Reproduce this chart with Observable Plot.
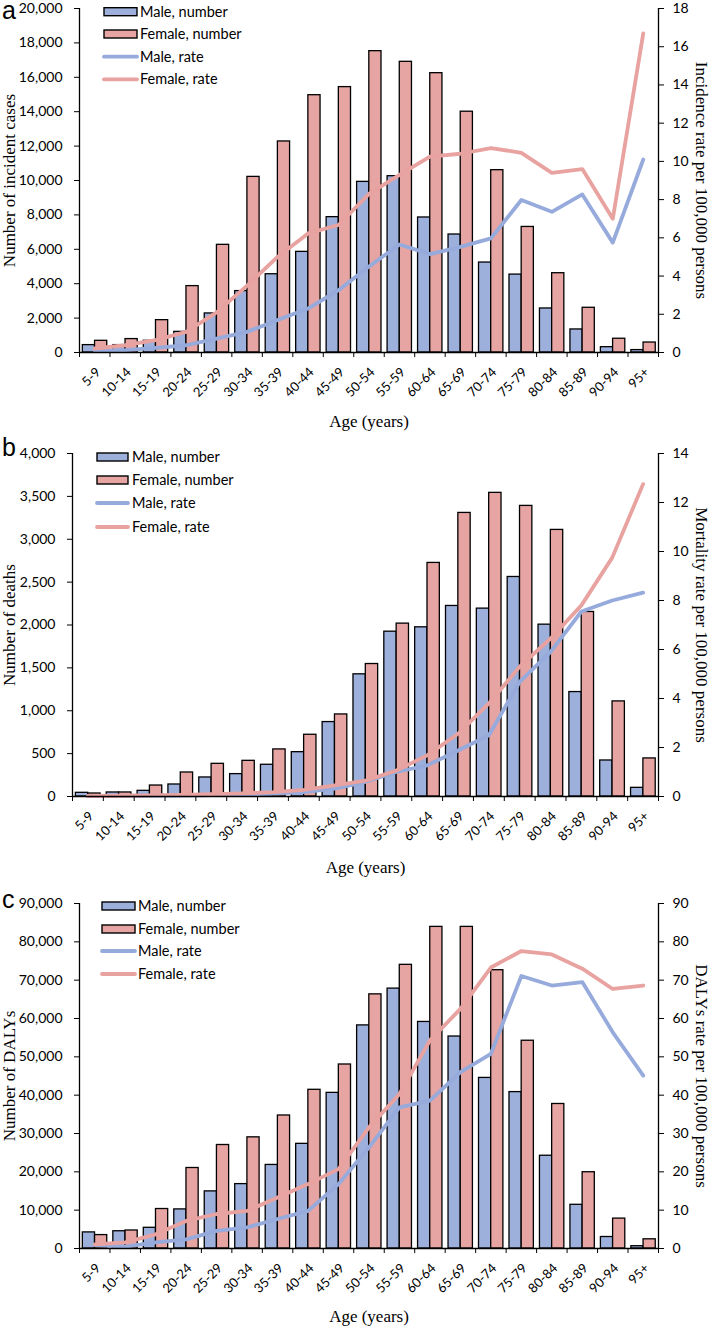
<!DOCTYPE html>
<html>
<head>
<meta charset="utf-8">
<script src="https://cdn.jsdelivr.net/npm/d3@7"></script>
<script src="https://cdn.jsdelivr.net/npm/@observablehq/plot@0.6"></script>
<style>
  body { margin: 0; background: white; }
  #root { position: relative; width: 709px; height: 1327px; background: white; }
  .panel { position: absolute; left: 0; }
</style>
</head>
<body>
<div id="root"></div>
<script>
// ---------- data ----------
const ages = ["5-9","10-14","15-19","20-24","25-29","30-34","35-39","40-44","45-49","50-54","55-59","60-64","65-69","70-74","75-79","80-84","85-89","90-94","95+"];

// (a) incidence
const incMaleNumber   = [430, 430, 680, 1200, 2270, 3570, 4550, 5850, 7870, 9920, 10250, 7850, 6860, 5230, 4530, 2560, 1340, 310, 140];
const incFemaleNumber = [680, 780, 1880, 3860, 6260, 10210, 12270, 14960, 15430, 17520, 16900, 16240, 14000, 10600, 7300, 4610, 2600, 800, 580];
const incMaleRate     = [0.09, 0.12, 0.24, 0.38, 0.73, 1.08, 1.7, 2.3, 3.26, 4.5, 5.65, 5.15, 5.53, 5.97, 7.98, 7.36, 8.27, 5.75, 10.1];
const incFemaleRate   = [0.21, 0.38, 0.65, 1.08, 2.1, 3.5, 5.0, 6.23, 6.67, 8.3, 9.3, 10.25, 10.4, 10.7, 10.45, 9.4, 9.6, 7.0, 16.7];

// (b) deaths
const dthMaleNumber   = [43, 47, 66, 140, 222, 261, 370, 517, 868, 1425, 1922, 1973, 2222, 2191, 2560, 2004, 1218, 420, 101];
const dthFemaleNumber = [35, 47, 128, 280, 381, 416, 549, 720, 957, 1545, 2016, 2724, 3307, 3541, 3389, 3109, 2152, 1109, 444];
const dthMaleRate     = [0.02, 0.02, 0.03, 0.04, 0.06, 0.08, 0.12, 0.18, 0.32, 0.6, 1.0, 1.27, 1.88, 2.5, 4.68, 5.9, 7.55, 8.0, 8.32];
const dthFemaleRate   = [0.02, 0.03, 0.05, 0.07, 0.1, 0.13, 0.18, 0.27, 0.45, 0.65, 1.06, 1.68, 2.56, 3.8, 5.3, 6.45, 7.8, 9.75, 12.75];

// (c) DALYs
const dalyMaleNumber   = [4200, 4500, 5400, 10200, 14900, 16800, 21800, 27300, 40600, 58200, 67800, 59100, 55300, 44500, 40800, 24200, 11400, 3000, 600];
const dalyFemaleNumber = [3500, 4700, 10300, 21000, 27000, 29000, 34700, 41400, 48000, 66300, 74000, 83900, 83900, 72600, 54200, 37700, 19900, 7800, 2400];
const dalyMaleRate     = [0.9, 0.5, 1.6, 2.4, 4.6, 5.5, 7.7, 9.8, 16.8, 26.4, 36.8, 38.6, 46, 50.8, 71.1, 68.6, 69.5, 56.4, 45.1];
const dalyFemaleRate   = [1.1, 1.6, 3.7, 7.2, 9.0, 9.8, 13.3, 16.8, 20.7, 31.6, 40.3, 54.3, 62.5, 73.3, 77.6, 76.7, 73, 67.7, 68.6];

const legendLabels = ["Male, number", "Female, number", "Male, rate", "Female, rate"];

// ---------- style ----------
const MALE_FILL = "#9dafdb";
const FEMALE_FILL = "#e6a4a2";
const MALE_LINE = "#96aadc";
const FEMALE_LINE = "#e8a2a0";
const SERIF = "Liberation Serif, Times New Roman, serif";
const SANS = "Lato, sans-serif";

function panel(cfg) {
  const k = cfg.yMax / cfg.rMax;
  const data = ages.map((a, i) => ({
    i, age: a,
    mN: cfg.maleN[i], fN: cfg.femaleN[i],
    mR: cfg.maleR[i], fR: cfg.femaleR[i]
  }));
  const width = 709, marginRight = 51;
  const svg = Plot.plot({
    width, height: cfg.height,
    marginTop: cfg.marginTop, marginBottom: cfg.marginBottom,
    marginLeft: cfg.marginLeft, marginRight,
    x: {type: "linear", domain: [-0.5, 18.5]},
    y: {domain: [0, cfg.yMax]},
    style: {fontFamily: SANS, fontSize: "14px", color: "black", background: "white", overflow: "visible"},
    marks: [
      Plot.rect(data, {x1: d => d.i - 0.39, x2: d => d.i + 0.01, y1: 0, y2: "mN",
        fill: MALE_FILL, stroke: "black", strokeWidth: 1.3}),
      Plot.rect(data, {x1: d => d.i + 0.01, x2: d => d.i + 0.41, y1: 0, y2: "fN",
        fill: FEMALE_FILL, stroke: "black", strokeWidth: 1.3}),
      Plot.line(data, {x: "i", y: d => d.mR * k, stroke: MALE_LINE, strokeWidth: 3.8}),
      Plot.line(data, {x: "i", y: d => d.fR * k, stroke: FEMALE_LINE, strokeWidth: 3.8}),
      Plot.ruleY([0], {stroke: "black", strokeWidth: 1.3}),
      Plot.ruleX([-0.5], {stroke: "black", strokeWidth: 1.3}),
      Plot.ruleX([18.5], {stroke: "black", strokeWidth: 1.3}),
      Plot.axisY(d3.range(0, cfg.yMax + 1, cfg.yStep), {
        tickSize: 5, tickPadding: 12, tickFormat: d3.format(","), label: null, fontSize: 14
      }),
      Plot.axisY(d3.range(0, cfg.rMax + 0.001, cfg.rStep).map(v => v * k), {
        anchor: "right", tickSize: 5, tickPadding: 9,
        tickFormat: d => d3.format(",")(Math.round(d / k)), label: null, fontSize: 14
      }),
      Plot.axisX(d3.range(-0.5, 18.6, 1), {tickSize: 5, tickFormat: () => "", label: null}),
      Plot.text(data, {x: "i", text: "age", frameAnchor: "bottom", rotate: -45,
        textAnchor: "end", lineAnchor: "top", dy: 14, dx: 0, fontSize: 13, fontFamily: SANS}),
      Plot.text([cfg.leftTitle], {frameAnchor: "left", dx: 9 - cfg.marginLeft, rotate: -90,
        textAnchor: "middle", fontFamily: SERIF, fontSize: 17, lineAnchor: "middle"}),
      Plot.text([cfg.rightTitle], {frameAnchor: "right", dx: 43, rotate: 90,
        textAnchor: "middle", fontFamily: SERIF, fontSize: 17, lineAnchor: "middle"}),
      Plot.text(["Age (years)"], {frameAnchor: "bottom", dy: cfg.ageDy,
        textAnchor: "middle", fontFamily: SERIF, fontSize: 17, lineAnchor: "middle"})
    ]
  });

  // legend & panel letter
  const g = d3.select(svg).append("g").attr("text-anchor", "start");
  const L = cfg.legend;
  L.rows.forEach((cy, j) => {
    if (j < 2) {
      g.append("rect").attr("x", L.x0).attr("y", cy - 4).attr("width", L.x1 - L.x0).attr("height", 8)
        .attr("fill", j === 0 ? MALE_FILL : FEMALE_FILL).attr("stroke", "black").attr("stroke-width", 1.4);
    } else {
      g.append("line").attr("x1", L.x0).attr("x2", L.x1).attr("y1", cy).attr("y2", cy)
        .attr("stroke", j === 2 ? MALE_LINE : FEMALE_LINE).attr("stroke-width", 3.8)
        .attr("stroke-linecap", "round");
    }
    g.append("text").attr("x", L.tx).attr("y", cy).attr("dy", "0.35em")
      .attr("text-anchor", "start")
      .attr("font-family", SANS).attr("font-size", 14.5).attr("fill", "black")
      .text(legendLabels[j]);
  });
  g.append("text").attr("x", 2).attr("y", cfg.letterY).attr("text-anchor", "start")
    .attr("font-family", "Liberation Sans, Arial, sans-serif").attr("font-size", 25).attr("fill", "black")
    .text(cfg.letter);

  const wrap = document.createElement("div");
  wrap.className = "panel";
  wrap.style.top = cfg.top + "px";
  wrap.appendChild(svg);
  document.getElementById("root").appendChild(wrap);
}

panel({
  letter: "a", letterY: 19, top: 0, height: 440, marginTop: 8, marginBottom: 88, marginLeft: 79,
  maleN: incMaleNumber, femaleN: incFemaleNumber, maleR: incMaleRate, femaleR: incFemaleRate,
  yMax: 20000, yStep: 2000, rMax: 18, rStep: 2,
  leftTitle: "Number of incident cases", rightTitle: "Incidence rate per 100,000 persons", ageDy: 69,
  legend: {x0: 104, x1: 137, tx: 140, rows: [11.7, 34, 56.7, 79.3]}
});
panel({
  letter: "b", letterY: 16, top: 440, height: 445, marginTop: 13, marginBottom: 89, marginLeft: 72,
  maleN: dthMaleNumber, femaleN: dthFemaleNumber, maleR: dthMaleRate, femaleR: dthFemaleRate,
  yMax: 4000, yStep: 500, rMax: 14, rStep: 2,
  leftTitle: "Number of deaths", rightTitle: "Mortality rate per 100,000 persons", ageDy: 71,
  legend: {x0: 97, x1: 128, tx: 132, rows: [17, 40, 63, 87]}
});
panel({
  letter: "c", letterY: 23, top: 885, height: 442, marginTop: 18, marginBottom: 79, marginLeft: 79,
  maleN: dalyMaleNumber, femaleN: dalyFemaleNumber, maleR: dalyMaleRate, femaleR: dalyFemaleRate,
  yMax: 90000, yStep: 10000, rMax: 90, rStep: 10,
  leftTitle: "Number of DALYs", rightTitle: "DALYs rate per 100,000 persons", ageDy: 68,
  legend: {x0: 102, x1: 135, tx: 138, rows: [21, 44, 66, 89]}
});
</script>
</body>
</html>
